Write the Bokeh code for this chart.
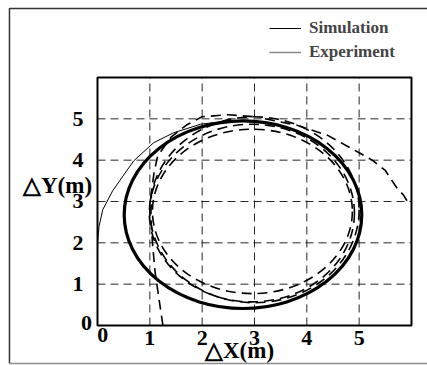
from bokeh.plotting import figure
from bokeh.models import Range1d, FixedTicker, Label, Legend, LegendItem
from bokeh.embed import file_html
from bokeh.resources import INLINE

# axis ticks
x_ticks = [0, 1, 2, 3, 4, 5]
y_ticks = [0, 1, 2, 3, 4, 5]
grid_x = [1, 2, 3, 4, 5]
grid_y = [1, 2, 3, 4, 5]
x_lim = (0, 6)
y_lim = (0, 6)

# simulated steady orbit (centre, full width/height in metres)
sim_cx, sim_cy, sim_w, sim_h = 2.78, 2.68, 4.54, 4.54

# simulated approach path from the start point
sim_path_x = [0.0, 0.03, 0.10, 0.29, 0.69, 1.07, 1.45, 1.97, 2.50]
sim_path_y = [2.00, 2.40, 2.80, 3.26, 3.98, 4.42, 4.66, 4.87, 4.95]

# measured orbits (centre x, centre y, width, height)
exp_cx = [2.96, 3.00, 2.95]
exp_cy = [2.76, 2.80, 2.72]
exp_w = [3.82, 4.00, 3.92]
exp_h = [3.98, 4.50, 4.30]

# measured entry track
exp_in_x = [1.25, 1.18, 1.10, 1.05, 1.02, 1.03, 1.08, 1.15, 1.40, 1.70, 2.00, 2.50, 3.00]
exp_in_y = [0.00, 0.60, 1.30, 2.00, 2.60, 3.20, 3.70, 4.10, 4.55, 4.85, 5.05, 5.10, 5.05]

# measured exit track
exp_out_x = [3.20, 3.80, 4.40, 5.00, 5.25, 5.50, 5.72, 5.85, 5.97]
exp_out_y = [5.00, 4.85, 4.60, 4.18, 4.00, 3.75, 3.33, 3.15, 2.90]

FONT = "Liberation Serif"

# the frame fills the canvas; the ranges leave room round the 0..6 box
p = figure(width=427, height=365, output_backend="svg", toolbar_location=None,
           x_range=Range1d(-1.8535, 6.306), y_range=Range1d(-0.968, 7.863),
           min_border=0)
p.background_fill_color = "white"
p.border_fill_color = "white"
p.outline_line_color = None
p.grid.visible = False

for ax in (p.xaxis[0], p.yaxis[0]):
    ax.fixed_location = 0
    ax.axis_line_color = None
    ax.major_tick_line_color = None
    ax.minor_tick_line_color = None
    ax.major_label_text_font = FONT
    ax.major_label_text_font_style = "bold"
    ax.major_label_text_font_size = "22px"
    ax.major_label_text_color = "black"
    ax.major_label_overrides = {0: ""}

p.xaxis.ticker = FixedTicker(ticks=x_ticks)
p.yaxis.ticker = FixedTicker(ticks=y_ticks)
p.xaxis.major_label_standoff = 0
p.yaxis.major_label_standoff = 8

# outer panel border
p.line([6.5, -1.682, -1.682], [7.67, 7.67, -0.92], line_color="#333333", line_width=1.5)
p.line([-1.682, 6.5], [-0.92, -0.92], line_color="#8c8c8c", line_width=1.5)

# dashed grid inside the box
p.segment(x0=grid_x, y0=y_lim[0], x1=grid_x, y1=y_lim[1],
          line_color="black", line_width=1, line_dash="8 5", line_alpha=0.85)
p.segment(x0=x_lim[0], y0=grid_y, x1=x_lim[1], y1=grid_y,
          line_color="black", line_width=1, line_dash="8 5", line_alpha=0.85)

# measured orbits and tracks
for cx, cy, w, h in zip(exp_cx, exp_cy, exp_w, exp_h):
    p.ellipse(x=cx, y=cy, width=w, height=h, fill_color=None,
              line_color="black", line_width=1.6, line_dash="10 6")
p.line(exp_in_x, exp_in_y, line_color="black", line_width=1.6, line_dash="10 6")
p.line(exp_out_x, exp_out_y, line_color="black", line_width=1.6, line_dash="10 6")

# simulation
p.ellipse(x=sim_cx, y=sim_cy, width=sim_w, height=sim_h, fill_color=None,
          line_color="black", line_width=3.2)
sim_r = p.line(sim_path_x, sim_path_y, line_color="black", line_width=1)

# legend key for the measurements (no points of its own)
exp_key = p.line(x=[float("nan")], y=[float("nan")], line_color="#8a8a8a",
                 line_width=1.3)

# plot box
p.quad(left=x_lim[0], right=x_lim[1], bottom=y_lim[0], top=y_lim[1],
       fill_color=None, line_color="black", line_width=2)

legend = Legend(items=[LegendItem(label="Simulation", renderers=[sim_r]),
                       LegendItem(label="Experiment", renderers=[exp_key])],
                location=(269, 303), border_line_color=None,
                background_fill_alpha=0, label_text_font=FONT,
                label_text_font_style="bold", label_text_font_size="17px",
                glyph_width=32, spacing=4, label_standoff=8, padding=4)
p.add_layout(legend, "center")

TXT = dict(text_font=FONT, text_font_style="bold", text_baseline="middle",
           text_color="black", text_align="center")

# origin labels
p.add_layout(Label(x=-0.21, y=0.07, text="0", text_font_size="22px", **TXT))
p.add_layout(Label(x=0.10, y=-0.24, text="0", text_font_size="22px", **TXT))

# axis titles
p.add_layout(Label(x=-0.764, y=3.39, text="△Y(m)", text_font_size="23px", **TXT))
p.add_layout(Label(x=2.714, y=-0.605, text="△X(m)", text_font_size="23px", **TXT))

open("out.html", "w").write(file_html(p, INLINE))
